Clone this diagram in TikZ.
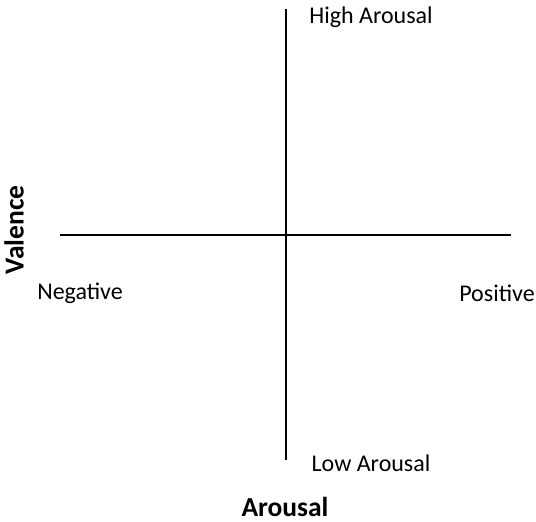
\documentclass[tikz,border=0pt]{standalone}
\usepackage{fontspec}
\setmainfont{Carlito}
\tikzset{
    lbl/.style={font=\fontsize{24}{28}\selectfont, inner sep=0pt},
    axislbl/.style={font=\fontsize{27.5}{32}\selectfont\bfseries, inner sep=0pt}
}
\begin{document}
\begin{tikzpicture}[x=1pt, y=-1pt]
    \useasboundingbox (0, 0) rectangle (536, 522);
    \coordinate (T) at (286, 9);
    \coordinate (D) at (286, 460);
    \coordinate (L) at (60, 235);
    \coordinate (R) at (511, 235);
    \draw[line width=2pt] (T) -- (D);
    \draw[line width=2pt] (L) -- (R);
    \node[lbl] (high) at (371, 17) {High Arousal};
    \node[lbl] (low) at (371, 463) {Low Arousal};
    \node[lbl] (neg) at (80, 293) {Negative};
    \node[lbl] (pos) at (497, 293) {Positive};
    \node[axislbl, rotate=90] (val) at (14, 230) {Valence};
    \node[axislbl] (aro) at (285, 507) {Arousal};
\end{tikzpicture}
\end{document}
